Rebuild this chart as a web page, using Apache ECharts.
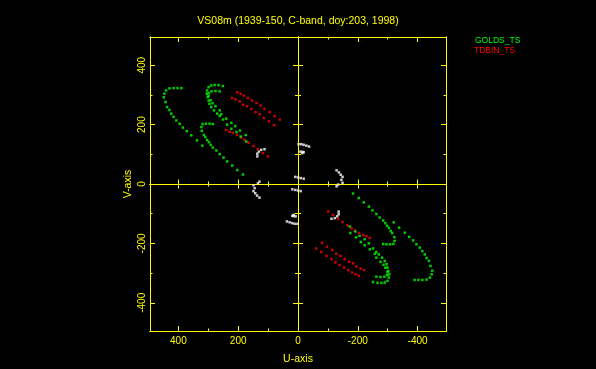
<!DOCTYPE html>
<html>
<head>
<meta charset="utf-8">
<script src="https://cdn.jsdelivr.net/npm/echarts@6/dist/echarts.min.js"></script>
<style>html,body{margin:0;padding:0;background:#000;}#c{width:596px;height:369px;}</style>
</head>
<body>
<div id="c"></div>
<script>
// ---- data (u, v): one half of each track; the conjugate half is (-u, -v)
const goldsTrackA = [[390,323],[403,323],[416,323],[430,322],[441,315],[447,304],[449,292],[443,276],[438,259],[430,249],[424,237],[416,226],[407,214],[396,203],[385,190],[372,178],[357,164],[338,147],[320,129]];
const goldsTrackB1 = [[251,330],[266,333],[279,333],[290,332],[299,326],[304,315],[305,304],[302,293],[299,281],[296,270],[290,259],[281,248],[270,237],[262,229],[251,217],[237,200],[223,186],[206,175],[192,160],[173,143]];
const goldsTrackB2 = [[262,312],[276,313],[289,312],[298,306],[299,296],[292,282],[286,272],[276,262],[262,248],[257,235],[240,220],[223,206],[210,195],[194,180],[175,165]];
const goldsTrackC = [[285,202],[296,203],[308,203],[319,202],[323,192],[322,179],[315,165],[310,158],[304,148],[298,141],[292,132],[285,123],[273,113],[262,101],[249,89],[237,76],[220,62],[203,47],[184,32]];
const tdbinTrack1 = [[203,309],[192,304],[181,298],[168,290],[154,281],[139,273],[125,264],[112,253],[95,242],[78,229],[61,217]];
const tdbinTrack2 = [[221,290],[209,285],[195,278],[184,267],[171,262],[156,253],[142,242],[128,235],[114,222],[97,211],[80,198]];
const tdbinTrack3 = [[240,182],[229,176],[218,172],[204,165],[190,157],[179,149],[165,139],[149,128],[134,117],[117,104],[101,93]];
const otherTrack1 = [[-2,134],[-11,134],[-19,132],[-28,129],[-37,126]];
const otherTrack2 = [[-8,109],[-15,108],[-19,107],[-14,104]];
const otherTrack3 = [[112,117],[123,115],[131,109],[136,102],[136,93]];
const otherTrack4 = [[-129,46],[-137,39],[-143,31],[-149,24],[-145,14],[-149,4],[-134,-2],[-129,-8]];
const otherTrack5 = [[9,24],[0,22],[-9,20],[-19,18]];

const majorTicks = [-400,-200,0,200,400];
const minorTicks = [-300,-100,100,300];
const centerMajorTicks = [-400,-200,200,400];
const titleText = 'VS08m (1939-150, C-band, doy:203, 1998)';
const seriesNames = ['GOLDS_TS','TDBIN_TS'];

function withConjugate(tracks){
  const out = [];
  tracks.forEach(t => t.forEach(p => { out.push([p[0],p[1]]); out.push([-p[0],-p[1]]); }));
  return out;
}

const Y = '#ffff00';
const FONT = 'Liberation Sans';
const RANGE = 495;

function axis(dim, position, ticks, len, inside, extra){
  const a = {
    type:'value', gridIndex:0, min:-RANGE, max:RANGE, position:position,
    inverse: dim==='x',
    splitLine:{show:false},
    axisLine:{show:true, onZero:false, lineStyle:{color:Y, width:1}},
    axisTick:{show:true, inside:inside, length:len, customValues:ticks, lineStyle:{color:Y, width:1}},
    axisLabel:{show:false},
    silent:true
  };
  return Object.assign(a, extra||{});
}
function centerAxis(dim, position, ticks, len, inside){
  const a = axis(dim, position, ticks, len, inside);
  a.axisLine = {show:true, onZero:true, onZeroAxisIndex:0, lineStyle:{color:Y, width:1}};
  return a;
}

const xAxes = [
  axis('x','bottom',majorTicks,5,true,{
    name:'U-axis', nameLocation:'middle', nameGap:23, nameMoveOverlap:false,
    nameTextStyle:{color:Y, fontFamily:FONT, fontSize:10.5},
    axisLabel:{show:true, customValues:majorTicks, color:Y, fontFamily:FONT, fontSize:10, margin:5}
  }),
  axis('x','bottom',minorTicks,2.5,true),
  axis('x','top',majorTicks,5,true),
  axis('x','top',minorTicks,2.5,true),
  centerAxis('x','bottom',centerMajorTicks,4.5,true),
  centerAxis('x','bottom',centerMajorTicks,4.5,false),
  centerAxis('x','bottom',minorTicks,2.5,true),
  centerAxis('x','bottom',minorTicks,2.5,false)
];
const yAxes = [
  axis('y','left',majorTicks,5,true,{
    name:'V-axis', nameLocation:'middle', nameGap:16, nameMoveOverlap:false,
    nameTextStyle:{color:Y, fontFamily:FONT, fontSize:10.5},
    axisLabel:{show:true, customValues:majorTicks, rotate:90, color:Y, fontFamily:FONT, fontSize:10, margin:3}
  }),
  axis('y','left',minorTicks,2.5,true),
  axis('y','right',majorTicks,5,true),
  axis('y','right',minorTicks,2.5,true),
  centerAxis('y','left',centerMajorTicks,5,true),
  centerAxis('y','left',centerMajorTicks,5,false),
  centerAxis('y','left',minorTicks,3,true),
  centerAxis('y','left',minorTicks,3,false)
];

function scatter(name, data, color){
  return {type:'scatter', name:name, xAxisIndex:0, yAxisIndex:0, data:data,
    symbol:'rect', symbolSize:2.5, itemStyle:{color:color}, silent:true, z:5};
}

const chart = echarts.init(document.getElementById('c'), null, {renderer:'canvas'});
chart.setOption({
  backgroundColor:'#000000',
  animation:false,
  title:{text:titleText, left:'center', top:11,
    textStyle:{color:Y, fontFamily:FONT, fontSize:10.5, fontWeight:'normal'}},
  grid:{left:150, right:150, top:37, bottom:38, outerBoundsMode:'none'},
  xAxis:xAxes,
  yAxis:yAxes,
  graphic:[
    {type:'text', left:475, top:36, style:{text:seriesNames[0], fill:'#00ff00', font:'8.5px "Liberation Sans"'}},
    {type:'text', left:474, top:46, style:{text:seriesNames[1], fill:'#ff0000', font:'8.5px "Liberation Sans"'}}
  ],
  series:[
    scatter('other', withConjugate([otherTrack1,otherTrack2,otherTrack3,otherTrack4,otherTrack5]), '#ffffff'),
    scatter(seriesNames[1], withConjugate([tdbinTrack1,tdbinTrack2,tdbinTrack3]), '#ff0000'),
    scatter(seriesNames[0], withConjugate([goldsTrackA,goldsTrackB1,goldsTrackB2,goldsTrackC]), '#00ff00')
  ]
});
</script>
</body>
</html>
